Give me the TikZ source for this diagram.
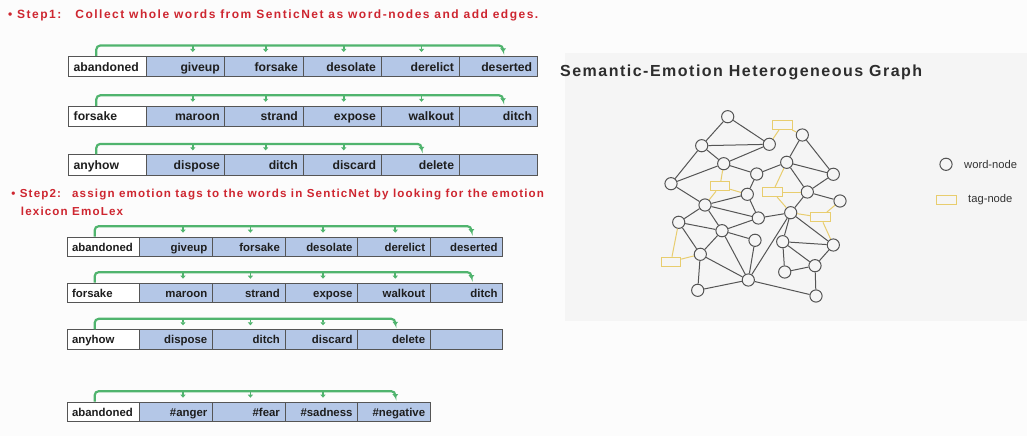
\documentclass[tikz,border=0pt]{standalone}
\usepackage{fontspec}
\setmainfont{Liberation Sans}
\newfontfamily\stepfontA[LetterSpace=12.5]{Liberation Sans}
\newfontfamily\stepfontB[LetterSpace=10]{Liberation Sans}
\newfontfamily\titlefont[LetterSpace=9.3]{Liberation Sans}
\usetikzlibrary{arrows.meta}
\definecolor{bgcol}{RGB}{252,252,252}
\definecolor{stepred}{RGB}{206,38,48}
\definecolor{cellblue}{RGB}{180,199,231}
\definecolor{cellline}{RGB}{85,85,85}
\definecolor{brgreen}{RGB}{80,180,110}
\definecolor{panelgray}{RGB}{245,245,245}
\definecolor{edgegray}{RGB}{85,85,85}
\definecolor{tagyellow}{RGB}{232,205,110}
\definecolor{titlegray}{RGB}{45,45,45}
\definecolor{celltext}{RGB}{30,30,30}
\tikzset{
  cellbase/.style={draw=cellline, line width=0.8pt, rectangle, anchor=north west,
    inner xsep=5pt, inner ysep=0pt, text depth=0pt, text=celltext},
  firstcell/.style={cellbase, fill=white, align=left},
  wordcell/.style={cellbase, fill=cellblue, align=right},
  bigrow/.style={minimum width=78.07pt, text width=68.07pt, minimum height=20.3pt,
    text height=9pt, font=\fontsize{12.2}{14}\selectfont\bfseries},
  smallrow/.style={minimum width=72.6pt, text width=62.6pt, minimum height=19.3pt,
    text height=8.7pt, font=\fontsize{11.4}{13}\selectfont\bfseries},
  bracket/.style={draw=brgreen, line width=2.2pt, rounded corners=4pt,
    -{Triangle[length=3.5pt,width=5.5pt]}, shorten >=4pt},
  stub/.style={draw=brgreen, line width=1.8pt, -{Triangle[length=3pt,width=5pt]}},
  wnode/.style={circle, draw=edgegray, fill=panelgray, line width=1pt,
    minimum size=12.2pt, inner sep=0pt},
  tnode/.style={rectangle, draw=tagyellow, fill=panelgray, line width=1pt,
    minimum width=19.5pt, minimum height=9pt, inner sep=0pt},
  wedge/.style={draw=edgegray, line width=1pt},
  tedge/.style={draw=tagyellow, line width=1pt},
  steptext/.style={anchor=base west, inner sep=0pt, text=stepred},
  legendtext/.style={anchor=west, inner sep=0pt, text=black!80,
    font=\fontsize{11.2}{13}\selectfont},
}
% #1 row name, #2 size style, #3 x left, #4 y top, #5 cell width, #6 words
\newcommand{\wordrow}[6]{%
  \foreach \w [count=\i] in {#6} {%
    \ifnum\i=1
      \node[firstcell,#2] (#1c\i) at ({#3+(\i-1)*#5},#4) {\w};
    \else
      \node[wordcell,#2] (#1c\i) at ({#3+(\i-1)*#5},#4) {\w};
    \fi
  }%
}
\begin{document}
\begin{tikzpicture}[x=1pt,y=-1pt]
\fill[bgcol] (0,0) rectangle (1027,436);
\useasboundingbox (0,0) rectangle (1027,436);
\fill[panelgray] (565,53) rectangle (1027,321);

% ---------- left: step texts ----------
\node[steptext, font=\stepfontA\bfseries\fontsize{12}{14}\selectfont] (step1) at (8,18.7)
  {•\ Step1:\hspace{14pt}Collect whole words from SenticNet as word-nodes and add edges.};
\node[steptext, font=\stepfontB\bfseries\fontsize{11.6}{14}\selectfont] (step2) at (11.2,197.3)
  {•\ Step2:\hspace{11pt}assign emotion tags to the words in SenticNet by looking for the emotion};
\node[steptext, font=\stepfontB\bfseries\fontsize{11.6}{14}\selectfont] (step2b) at (20.7,215)
  {lexicon EmoLex};

% ---------- rows ----------
\wordrow{r1}{bigrow}{68.3}{56}{78.07}{abandoned,giveup,forsake,desolate,derelict,deserted}
\wordrow{r2}{bigrow}{68.3}{105.8}{78.07}{forsake,maroon,strand,expose,walkout,ditch}
\wordrow{r3}{bigrow}{68.3}{154.4}{78.07}{anyhow,dispose,ditch,discard,delete,{}}
\wordrow{r4}{smallrow}{66.7}{236.7}{72.6}{abandoned,giveup,forsake,desolate,derelict,deserted}
\wordrow{r5}{smallrow}{66.7}{282.7}{72.6}{forsake,maroon,strand,expose,walkout,ditch}
\wordrow{r6}{smallrow}{66.7}{329.3}{72.6}{anyhow,dispose,ditch,discard,delete,{}}
\wordrow{r7}{smallrow}{66.7}{401.7}{72.6}{abandoned,\#anger,\#fear,\#sadness,\#negative}

% ---------- brackets ----------
\foreach \r in {r1,r2,r4,r5} {
  \draw[bracket] ([xshift=28pt]\r c1.north west) -- ++(0,-10.5) -| ([xshift=5pt]\r c6.north);
  \foreach \c/\o in {2/7,3/1.8,4/1.8,5/1.5}
    \draw[stub] ([xshift=\o pt,yshift=10.5pt]\r c\c.north) -- ([xshift=\o pt,yshift=4pt]\r c\c.north);
}
\foreach \r in {r3,r6,r7} {
  \draw[bracket] ([xshift=28pt]\r c1.north west) -- ++(0,-10.5) -| ([xshift=1.5pt]\r c5.north);
  \foreach \c/\o in {2/7,3/1.8,4/1.8}
    \draw[stub] ([xshift=\o pt,yshift=10.5pt]\r c\c.north) -- ([xshift=\o pt,yshift=4pt]\r c\c.north);
}

% ---------- right: title ----------
\node[anchor=base west, inner sep=0pt, text=titlegray,
  font=\titlefont\bfseries\fontsize{16}{19}\selectfont] (title) at (560,76.7)
  {Semantic-Emotion Heterogeneous Graph};

% ---------- graph nodes ----------
\foreach \n/\x/\y in {A/727.7/116.7, B/701.7/145.7, C/769.3/144.3, D/723.7/163.7,
  E/671/183.7, F/756.7/174, G/747.3/194.3, H/705/205, I/758.3/218, J/678.7/222.3,
  K/722/230.7, L/755/240.3, M/700.3/254.3, N/748.3/280, O/697.7/290.3,
  P/802.3/135, Q/786.7/162.3, R/833.3/174.3, S/807.3/192, T/840/201, U/790.7/212.7,
  V/782.7/241.7, W/833.3/245, X/815/265.7, Y/784.7/272, Z/816/296}
  \node[wnode] (g\n) at (\x,\y) {};
\foreach \n/\x/\y in {1/782.3/125, 2/720/186.3, 3/772.7/192, 4/820.7/217.3, 5/671/261.7}
  \node[tnode] (t\n) at (\x,\y) {};

% ---------- graph edges ----------
\foreach \a/\b in {A/B, A/C, B/C, B/D, C/D, B/E, D/E, E/H, D/F, F/G, G/I, H/G, H/I,
  H/J, H/K, J/K, J/M, K/M, K/I, K/L, K/N, M/N, M/O, O/N, L/N, I/U, F/Q, Q/P, P/R,
  Q/R, Q/S, R/S, S/T, S/U, U/V, U/N, U/W, V/W, V/Y, V/X, X/W, X/Y, X/Z, N/Z}
  \draw[wedge] (g\a) -- (g\b);
\foreach \a/\b in {1/C, 1/P, 2/D, 2/G, 2/H, 3/Q, 3/S, 3/U, 4/T, 4/U, 4/W, 5/J, 5/M}
  \draw[tedge] (t\a) -- (g\b);

% ---------- legend ----------
\node[wnode] (lgw) at (946,164.3) {};
\node[legendtext] (lgwt) at (964,164.3) {word-node};
\node[tnode] (lgt) at (946.7,200) {};
\node[legendtext] (lgtt) at (968,199.5) {tag-node};
\end{tikzpicture}
\end{document}
